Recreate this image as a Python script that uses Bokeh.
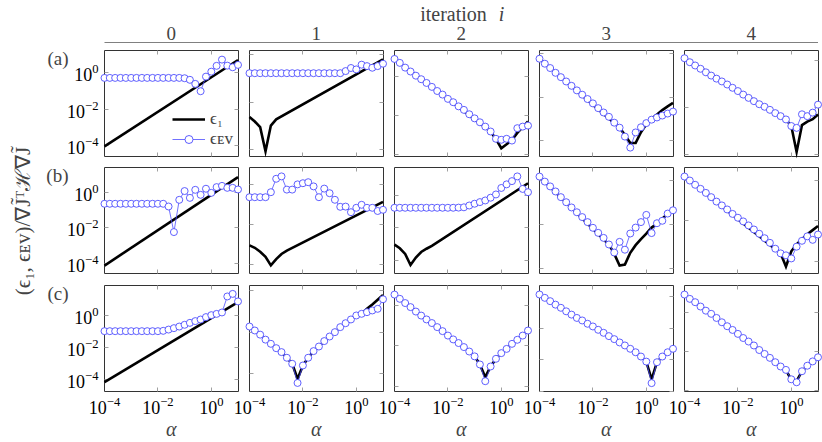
import math
from bokeh.plotting import figure
from bokeh.models import (Range1d, LogScale, LogAxis, FixedTicker, LogTickFormatter,
                          CustomJSTickFormatter, Label, Legend, LegendItem)
from bokeh.embed import file_html
from bokeh.resources import INLINE

# ---------------- data ----------------
alpha = [1.0e-4, 1.58e-4, 2.51e-4, 3.98e-4, 6.31e-4, 1.0e-3, 1.58e-3, 2.51e-3, 3.98e-3, 6.31e-3,
         1.0e-2, 1.58e-2, 2.51e-2, 3.98e-2, 6.31e-2, 1.0e-1, 1.58e-1, 2.51e-1, 3.98e-1, 6.31e-1,
         1.0, 1.58, 2.51, 3.98, 6.31, 10.0]

row_labels = ["(a)", "(b)", "(c)"]
iterations = ["0", "1", "2", "3", "4"]

# row (a)
ev_a0 = [5.1e-1, 5.1e-1, 5.1e-1, 5.1e-1, 5.1e-1, 5.1e-1, 5.1e-1, 5.1e-1, 5.1e-1, 5.1e-1,
         5.1e-1, 5.1e-1, 5.1e-1, 5.1e-1, 5.1e-1, 4.9e-1, 4.0e-1, 2.4e-1, 9.5e-2, 6.0e-1,
         1.12, 2.34, 5.13, 2.40, 1.95, 2.63]
e1x_a0 = [1.0e-4, 10.0]
e1_a0 = [9.1e-5, 4.9]

ev_a1 = [1.66e-1, 1.66e-1, 1.66e-1, 1.66e-1, 1.66e-1, 1.66e-1, 1.66e-1, 1.66e-1, 1.66e-1, 1.66e-1,
         1.66e-1, 1.66e-1, 1.66e-1, 1.66e-1, 1.66e-1, 1.66e-1, 1.66e-1, 1.66e-1, 2.04e-1, 2.75e-1,
         2.40e-1, 3.80e-1, 3.31e-1, 2.82e-1, 3.31e-1, 4.17e-1]
e1x_a1 = [1.0e-4, 1.58e-4, 2.51e-4, 3.98e-4, 6.31e-4, 1.0e-3, 10.0]
e1_a1 = [2.34e-3, 1.51e-3, 8.71e-4, 8.32e-5, 1.02e-3, 1.86e-3, 6.31e-1]

ev_a2 = [7.59, 4.79, 2.75, 1.74, 1.07, 7.08e-1, 4.57e-1, 2.88e-1, 1.78e-1, 1.17e-1,
         7.08e-2, 4.79e-2, 2.95e-2, 1.95e-2, 1.17e-2, 7.24e-3, 4.57e-3, 2.75e-3, 1.55e-3, 6.61e-4,
         5.89e-4, 6.61e-4, 5.37e-4, 2.29e-3, 2.75e-3, 3.09e-3]
e1x_a2 = [1.0e-4, 3.98e-1, 6.31e-1, 1.0, 1.58, 2.51, 3.98, 6.31, 10.0]
e1_a2 = [7.59, 1.55e-3, 6.31e-4, 2.19e-4, 3.47e-4, 5.89e-4, 1.32e-3, 2.57e-3, 5.01e-3]

ev_a3 = [58.9, 34.7, 21.9, 13.2, 8.32, 5.25, 3.31, 2.04, 1.29, 8.13e-1,
         5.13e-1, 3.09e-1, 1.95e-1, 1.23e-1, 6.61e-2, 3.89e-2, 1.51e-2, 4.68e-3, 2.34e-2, 4.07e-2,
         6.31e-2, 9.12e-2, 1.15e-1, 1.41e-1, 1.74e-1, 2.14e-1]
e1x_a3 = [1.0e-4, 1.0e-1, 1.58e-1, 2.51e-1, 3.98e-1, 6.31e-1, 1.0, 1.58, 2.51, 3.98, 6.31, 10.0]
e1_a3 = [58.9, 3.89e-2, 1.78e-2, 7.59e-3, 7.59e-3, 2.40e-2, 5.62e-2, 1.0e-1, 1.58e-1, 2.51e-1,
         3.72e-1, 5.37e-1]

ev_a4 = [1.26, 8.51e-1, 6.17e-1, 4.47e-1, 3.16e-1, 2.29e-1, 1.70e-1, 1.29e-1, 9.55e-2, 6.92e-2,
         5.01e-2, 3.55e-2, 2.57e-2, 1.86e-2, 1.38e-2, 1.07e-2, 7.94e-3, 5.75e-3, 4.27e-3, 3.09e-3,
         1.62e-3, 1.35e-3, 5.13e-3, 4.27e-3, 6.03e-3, 1.32e-2]
e1x_a4 = [1.0e-4, 6.31e-1, 1.0, 1.58, 2.51, 3.98, 6.31, 10.0]
e1_a4 = [1.26, 3.09e-3, 1.62e-3, 1.26e-4, 1.78e-3, 2.51e-3, 3.16e-3, 5.01e-3]

# row (b)
ev_b0 = [2.24e-1, 2.24e-1, 2.24e-1, 2.24e-1, 2.24e-1, 2.24e-1, 2.24e-1, 2.24e-1, 2.24e-1, 2.24e-1,
         2.24e-1, 2.24e-1, 1.58e-1, 5.89e-3, 3.72e-1, 1.15, 4.79e-1, 1.35, 7.08e-1, 1.55,
         9.12e-1, 1.91, 2.24, 1.74, 1.74, 1.41]
e1x_b0 = [1.0e-4, 10.0]
e1_b0 = [7.94e-5, 6.92]

ev_b1 = [2.40e-1, 2.40e-1, 2.40e-1, 2.40e-1, 4.27e-1, 2.0, 2.63, 5.75e-1, 5.75e-1, 1.05,
         1.20, 1.35, 8.32e-1, 2.40e-1, 6.46e-1, 3.80e-1, 1.78e-1, 7.94e-2, 8.13e-2, 4.27e-2,
         7.08e-2, 1.0e-1, 7.08e-2, 7.08e-2, 4.90e-2, 5.62e-2]
e1x_b1 = [1.0e-4, 1.58e-4, 2.51e-4, 3.98e-4, 6.31e-4, 1.0e-3, 1.58e-3, 2.51e-3, 10.0]
e1_b1 = [9.33e-4, 7.08e-4, 4.47e-4, 2.51e-4, 9.33e-5, 1.91e-4, 3.47e-4, 5.13e-4, 1.41e-1]

ev_b2 = [1.74e-1, 1.74e-1, 1.74e-1, 1.74e-1, 1.74e-1, 1.74e-1, 1.74e-1, 1.74e-1, 1.74e-1, 1.74e-1,
         1.74e-1, 1.74e-1, 1.78e-1, 1.86e-1, 2.40e-1, 3.09e-1, 3.89e-1, 4.90e-1, 7.24e-1, 1.15,
         2.88, 4.79, 7.59, 14.8, 2.51, 1.58]
e1x_b2 = [1.0e-4, 1.58e-4, 2.51e-4, 3.98e-4, 6.31e-4, 1.0e-3, 1.58e-3, 2.51e-3, 10.0]
e1_b2 = [9.33e-4, 5.62e-4, 2.51e-4, 5.25e-5, 1.51e-4, 3.31e-4, 5.25e-4, 7.94e-4, 5.62]

ev_b3 = [1.51, 8.91e-1, 5.37e-1, 3.16e-1, 1.74e-1, 1.02e-1, 5.89e-2, 3.55e-2, 2.14e-2, 1.26e-2,
         6.92e-3, 4.07e-3, 2.40e-3, 1.20e-3, 5.13e-4, 1.58e-3, 6.92e-4, 3.80e-3, 7.08e-3, 1.26e-2,
         2.69e-2, 3.98e-3, 1.12e-2, 1.45e-2, 3.09e-2, 4.37e-2]
e1x_b3 = [1.0e-4, 3.98e-2, 6.31e-2, 1.0e-1, 1.58e-1, 2.51e-1, 3.98e-1, 6.31e-1, 1.0, 1.58,
          2.51, 3.98, 6.31, 10.0]
e1_b3 = [1.51, 1.20e-3, 4.47e-4, 1.32e-4, 1.45e-4, 5.01e-4, 1.12e-3, 2.09e-3, 3.72e-3, 7.08e-3,
         1.05e-2, 1.78e-2, 3.02e-2, 5.01e-2]

ev_b4 = [1.58, 1.0, 6.17e-1, 3.89e-1, 2.45e-1, 1.51e-1, 9.12e-2, 5.89e-2, 3.72e-2, 2.24e-2,
         1.45e-2, 9.55e-3, 6.03e-3, 3.80e-3, 2.34e-3, 1.41e-3, 8.32e-4, 4.27e-4, 2.51e-4, 2.0e-4,
         1.41e-4, 5.37e-4, 1.05e-3, 1.74e-3, 1.17e-3, 2.14e-3]
e1x_b4 = [1.0e-4, 3.98e-1, 6.31e-1, 1.0, 1.58, 2.51, 3.98, 6.31, 10.0]
e1_b4 = [1.58, 2.51e-4, 5.62e-5, 3.16e-4, 7.08e-4, 1.26e-3, 2.24e-3, 3.55e-3, 5.62e-3]

# row (c)
ev_c0 = [1.05e-1, 1.05e-1, 1.05e-1, 1.05e-1, 1.05e-1, 1.05e-1, 1.05e-1, 1.05e-1, 1.05e-1, 1.05e-1,
         1.05e-1, 1.10e-1, 1.32e-1, 1.62e-1, 2.04e-1, 2.63e-1, 3.47e-1, 4.47e-1, 5.62e-1, 7.94e-1,
         1.05, 1.26, 1.55, 15.5, 22.4, 7.59]
e1x_c0 = [1.0e-4, 10.0]
e1_c0 = [6.76e-5, 6.76]

ev_c1 = [1.86, 1.20, 7.59e-1, 4.37e-1, 2.75e-1, 1.70e-1, 1.10e-1, 5.89e-2, 3.02e-2, 3.63e-3,
         2.51e-2, 5.89e-2, 1.23e-1, 2.04e-1, 3.72e-1, 6.17e-1, 1.0, 1.74, 2.69, 4.07,
         6.31, 7.59, 9.12, 11.0, 13.2, 38.0]
e1x_c1 = alpha
e1_c1 = [1.86, 1.20, 7.59e-1, 4.37e-1, 2.75e-1, 1.70e-1, 1.10e-1, 5.89e-2, 3.02e-2, 5.62e-3,
         2.51e-2, 5.89e-2, 1.23e-1, 2.04e-1, 3.72e-1, 6.17e-1, 1.0, 1.74, 2.69, 4.07,
         6.31, 7.59, 13.2, 21.4, 36.3, 60.3]

ev_c2 = [3.47, 2.14, 1.32, 8.32e-1, 5.01e-1, 3.16e-1, 2.04e-1, 1.35e-1, 8.51e-2, 5.37e-2,
         3.24e-2, 2.09e-2, 1.38e-2, 8.71e-3, 5.25e-3, 3.02e-3, 1.20e-3, 1.78e-4, 9.55e-4, 2.29e-3,
         4.37e-3, 7.08e-3, 1.26e-2, 2.0e-2, 3.24e-2, 5.75e-2]
e1x_c2 = alpha
e1_c2 = [3.47, 2.14, 1.32, 8.32e-1, 5.01e-1, 3.16e-1, 2.04e-1, 1.35e-1, 8.51e-2, 5.37e-2,
         3.24e-2, 2.09e-2, 1.38e-2, 8.71e-3, 5.25e-3, 3.02e-3, 1.20e-3, 2.82e-4, 9.55e-4, 2.29e-3,
         4.37e-3, 7.08e-3, 1.26e-2, 2.0e-2, 3.24e-2, 5.75e-2]

ev_c3 = [135.0, 83.2, 51.3, 30.9, 19.5, 11.7, 7.24, 4.47, 3.09, 1.91,
         1.29, 7.94e-1, 5.13e-1, 3.16e-1, 2.04e-1, 1.26e-1, 8.13e-2, 5.01e-2, 3.02e-2, 1.62e-2,
         7.76e-3, 3.39e-4, 7.08e-3, 1.62e-2, 3.02e-2, 5.01e-2]
e1x_c3 = alpha
e1_c3 = [135.0, 83.2, 51.3, 30.9, 19.5, 11.7, 7.24, 4.47, 3.09, 1.91,
         1.29, 7.94e-1, 5.13e-1, 3.16e-1, 2.04e-1, 1.26e-1, 8.13e-2, 5.01e-2, 3.02e-2, 1.62e-2,
         7.76e-3, 5.89e-4, 7.08e-3, 1.62e-2, 3.02e-2, 5.01e-2]

ev_c4 = [7.94, 4.79, 3.24, 1.95, 1.20, 8.32e-1, 5.13e-1, 3.09e-1, 1.95e-1, 1.26e-1,
         7.94e-2, 4.90e-2, 3.24e-2, 2.04e-2, 1.20e-2, 7.59e-3, 4.79e-3, 2.88e-3, 1.74e-3, 1.17e-3,
         3.89e-4, 2.75e-4, 1.0e-3, 1.91e-3, 3.16e-3, 5.13e-3]
e1x_c4 = alpha
e1_c4 = [7.94, 4.79, 3.24, 1.95, 1.20, 8.32e-1, 5.13e-1, 3.09e-1, 1.95e-1, 1.26e-1,
         7.94e-2, 4.90e-2, 3.24e-2, 2.04e-2, 1.20e-2, 7.59e-3, 4.79e-3, 2.88e-3, 1.74e-3, 1.17e-3,
         3.55e-4, 3.16e-4, 1.0e-3, 1.91e-3, 3.16e-3, 5.13e-3]

# per-panel y axis limits
ylim_a = [(2.51e-5, 16.2), (5.01e-5, 1.51), (8.32e-5, 20.4), (1.82e-3, 141.0), (8.13e-5, 2.69)]
ylim_b = [(2.75e-5, 22.9), (3.55e-5, 7.08), (1.51e-5, 50.1), (5.50e-5, 3.80), (2.45e-5, 4.27)]
ylim_c = [(1.78e-5, 75.0), (1.41e-3, 174.0), (5.50e-5, 9.77), (1.0e-4, 501.0), (9.33e-5, 22.9)]
x_lim = (1.0e-4, 10.0)
x_ticks = [1.0e-4, 1.0e-2, 1.0]

EV = [[ev_a0, ev_a1, ev_a2, ev_a3, ev_a4],
      [ev_b0, ev_b1, ev_b2, ev_b3, ev_b4],
      [ev_c0, ev_c1, ev_c2, ev_c3, ev_c4]]
E1X = [[e1x_a0, e1x_a1, e1x_a2, e1x_a3, e1x_a4],
       [e1x_b0, e1x_b1, e1x_b2, e1x_b3, e1x_b4],
       [e1x_c0, e1x_c1, e1x_c2, e1x_c3, e1x_c4]]
E1 = [[e1_a0, e1_a1, e1_a2, e1_a3, e1_a4],
      [e1_b0, e1_b1, e1_b2, e1_b3, e1_b4],
      [e1_c0, e1_c1, e1_c2, e1_c3, e1_c4]]
YLIM = [ylim_a, ylim_b, ylim_c]

# ---------------- layout (canvas pixel coordinates) ----------------
W, H = 822, 442
COL_LEFT = [104, 249, 394, 539, 684]
COL_W = 133.5
ROW_TOP = [50, 167.3, 285]
ROW_H = 106

FONT = "Liberation Serif"
BLUE = "#4d4dff"
BORDER = "#333333"
TICK = "#a0a0a0"

p = figure(width=W, height=H, x_range=Range1d(0, W), y_range=Range1d(H, 0),
           x_axis_type=None, y_axis_type=None, output_backend="svg", toolbar_location=None,
           min_border=0, outline_line_color=None, background_fill_color="white",
           border_fill_color="white")


def log_extent(lo, hi, p0, p1, c0, c1):
    a, b = math.log10(lo), math.log10(hi)
    per = (b - a) / (p1 - p0)
    return 10 ** (a - (p0 - c0) * per), 10 ** (b + (c1 - p1) * per)


legend_renderers = None
for r in range(3):
    for c in range(5):
        xn, yn = f"x{r}{c}", f"y{r}{c}"
        l = COL_LEFT[c]
        rgt = l + COL_W
        t = ROW_TOP[r]
        b = t + ROW_H
        xs, xe = log_extent(x_lim[0], x_lim[1], l, rgt, 0, W)
        ylo, yhi = YLIM[r][c]
        ys, ye = log_extent(ylo, yhi, H - b, H - t, 0, H)
        p.extra_x_ranges[xn] = Range1d(xs, xe)
        p.extra_x_scales[xn] = LogScale()
        p.extra_y_ranges[yn] = Range1d(ys, ye)
        p.extra_y_scales[yn] = LogScale()

        r_e1 = p.line(E1X[r][c], E1[r][c], x_range_name=xn, y_range_name=yn,
                      line_color="black", line_width=2.6, line_join="miter")
        r_evl = p.line(alpha, EV[r][c], x_range_name=xn, y_range_name=yn,
                       line_color=BLUE, line_width=0.8)
        r_evc = p.scatter(alpha, EV[r][c], x_range_name=xn, y_range_name=yn, marker="circle",
                          size=7, line_color=BLUE, line_width=0.9, fill_color="white")
        if r == 0 and c == 0:
            legend_renderers = (r_e1, r_evl, r_evc)

        lo_e, hi_e = math.log10(ylo), math.log10(yhi)
        y_ticks = [10.0 ** e for e in range(-8, 6, 2) if lo_e - 1e-6 <= e <= hi_e + 1e-6]

        def add_axis(side, loc, bounds, ticks, labelled, **kw):
            ax = LogAxis(x_range_name=xn, y_range_name=yn, fixed_location=loc, bounds=bounds,
                         ticker=FixedTicker(ticks=ticks, minor_ticks=[]),
                         formatter=LogTickFormatter() if labelled else CustomJSTickFormatter(code="return ''"),
                         axis_line_color=BORDER, axis_line_width=1,
                         major_tick_in=4, major_tick_out=0,
                         major_tick_line_color=TICK, major_tick_line_width=1,
                         minor_tick_line_color=None,
                         major_label_text_font=FONT, major_label_text_font_size="18px",
                         major_label_text_color="black",
                         level="underlay", **kw)
            p.add_layout(ax, side)

        add_axis("below", ylo, x_lim, x_ticks, r == 2, major_label_standoff=5)
        add_axis("above", yhi, x_lim, x_ticks, False)
        add_axis("left", x_lim[0], (ylo, yhi), y_ticks, c == 0, major_label_standoff=6)
        add_axis("right", x_lim[1], (ylo, yhi), y_ticks, False)

# x-axis titles under the bottom row
for c in range(5):
    p.add_layout(Label(x=COL_LEFT[c] + COL_W / 2, y=428, text="α", text_align="center",
                       text_baseline="middle", text_font=FONT, text_font_size="20px",
                       text_font_style="italic"))

# legend inside panel (a), iteration 0
legend = Legend(items=[LegendItem(label="ϵ₁", renderers=[legend_renderers[0]]),
                       LegendItem(label="ϵᴇᴠ", renderers=[legend_renderers[1], legend_renderers[2]])],
                location=(172, H - 149), orientation="vertical", background_fill_alpha=0,
                border_line_alpha=0, glyph_width=33, glyph_height=20, label_height=20,
                label_standoff=5, spacing=0, padding=0, margin=0,
                label_text_font=FONT, label_text_font_size="17px")
p.add_layout(legend)

# header: "iteration i", column labels and rule
p.add_layout(Label(x=453, y=13.5, text="iteration", text_align="center", text_baseline="middle",
                   text_font=FONT, text_font_size="20px"))
p.add_layout(Label(x=501, y=13.5, text="i", text_align="center", text_baseline="middle",
                   text_font=FONT, text_font_size="20px", text_font_style="italic"))
for c in range(5):
    p.add_layout(Label(x=COL_LEFT[c] + COL_W / 2, y=32.5, text=iterations[c], text_align="center",
                       text_baseline="middle", text_font=FONT, text_font_size="19px"))
p.segment(x0=[COL_LEFT[0]], y0=[42], x1=[COL_LEFT[4] + COL_W], y1=[42],
          line_color="#808080", line_width=1.2)

# row labels
for r in range(3):
    p.add_layout(Label(x=68, y=ROW_TOP[r] + 8, text=row_labels[r], text_align="right",
                       text_baseline="middle", text_font=FONT, text_font_size="19px"))

# y-axis title
p.add_layout(Label(x=22, y=221, text="(ϵ₁, ϵᴇᴠ)/∇J̃ᵀℋ∇J̃", angle=math.pi / 2,
                   text_align="center", text_baseline="middle",
                   text_font=FONT, text_font_size="21px"))

open("out.html", "w").write(file_html(p, INLINE))
